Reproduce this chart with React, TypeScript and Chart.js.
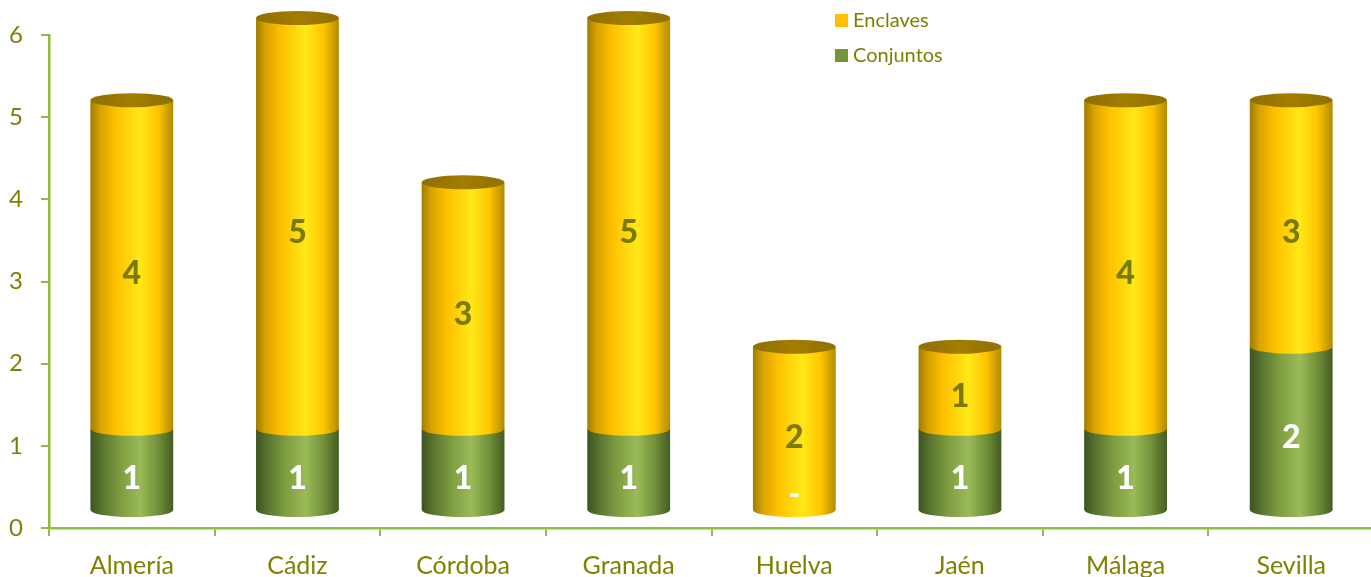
import React, { useEffect, useRef } from "react";
import { Chart, registerables } from "chart.js";

Chart.register(...registerables);

const categories = ["Almería", "Cádiz", "Córdoba", "Granada", "Huelva", "Jaén", "Málaga", "Sevilla"];
const conjuntos = [1, 1, 1, 1, 0, 1, 1, 2];
const enclaves = [4, 5, 3, 5, 2, 1, 4, 3];
const seriesNames = ["Conjuntos", "Enclaves"];
const yMin = 0;
const yMax = 6;
const yStep = 1;

const OLIVE = "#808000";
const LABEL_OLIVE = "#7a7a00";
const AXIS_GREEN = "#8fbc3c";
const FONT = "Lato, 'Noto Sans', sans-serif";

const cylinderPlugin = {
  id: "cylinders",
  afterDatasetsDraw(chart: any) {
    const ctx: CanvasRenderingContext2D = chart.ctx;
    const S = 17;
    const ry = 7;
    const nDs = chart.data.datasets.length;
    for (let d = 0; d < nDs; d++) {
      const meta = chart.getDatasetMeta(d);
      const isTop = d === nDs - 1;
      meta.data.forEach((el: any, i: number) => {
        const v = chart.data.datasets[d].data[i];
        if (!v) return;
        const { x, y, base, width } = el.getProps(["x", "y", "base", "width"], true);
        const rx = width / 2;
        const left = x - rx;
        const right = x + rx;
        const top = y - S;
        const bottom = base - S;
        const g = ctx.createLinearGradient(left, 0, right, 0);
        if (d === 0) {
          g.addColorStop(0, "#3d5420");
          g.addColorStop(0.15, "#5b7630");
          g.addColorStop(0.35, "#7d9b40");
          g.addColorStop(0.6, "#9bbb59");
          g.addColorStop(0.82, "#718f38");
          g.addColorStop(1, "#445c22");
        } else {
          g.addColorStop(0, "#a07c00");
          g.addColorStop(0.12, "#d9a300");
          g.addColorStop(0.3, "#ffc000");
          g.addColorStop(0.6, "#ffe817");
          g.addColorStop(0.82, "#ffc400");
          g.addColorStop(1, "#b08a00");
        }
        ctx.save();
        ctx.beginPath();
        ctx.moveTo(left, top);
        ctx.lineTo(left, bottom);
        ctx.ellipse(x, bottom, rx, ry, 0, Math.PI, 0, true);
        ctx.lineTo(right, top);
        ctx.closePath();
        ctx.fillStyle = g;
        ctx.fill();
        if (isTop) {
          const tg = ctx.createLinearGradient(left, 0, right, 0);
          tg.addColorStop(0, "#8f6f00");
          tg.addColorStop(0.5, "#a27d00");
          tg.addColorStop(1, "#8f6f00");
          ctx.beginPath();
          ctx.ellipse(x, top, rx, ry, 0, 0, Math.PI * 2);
          ctx.fillStyle = tg;
          ctx.fill();
        }
        ctx.restore();
      });
    }
    // data labels
    ctx.save();
    ctx.textAlign = "center";
    ctx.textBaseline = "middle";
    ctx.font = "900 32px " + FONT;
    for (let d = 0; d < nDs; d++) {
      const meta = chart.getDatasetMeta(d);
      meta.data.forEach((el: any, i: number) => {
        const v = chart.data.datasets[d].data[i];
        const { x, y, base } = el.getProps(["x", "y", "base"], true);
        ctx.fillStyle = d === 0 ? "#ffffff" : LABEL_OLIVE;
        if (!v) {
          ctx.fillText("-", x, base - 33);
        } else {
          ctx.fillText(String(v), x, (y + base) / 2 - 8);
        }
      });
    }
    ctx.restore();
  },
  afterDraw(chart: any) {
    const ctx: CanvasRenderingContext2D = chart.ctx;
    const items = [
      { label: seriesNames[1], color: "#ffc000", y: 14 },
      { label: seriesNames[0], color: "#77933c", y: 49 },
    ];
    ctx.save();
    ctx.font = "20px " + FONT;
    ctx.textAlign = "left";
    ctx.textBaseline = "alphabetic";
    items.forEach((it) => {
      ctx.fillStyle = it.color;
      ctx.fillRect(835, it.y, 13, 13);
      ctx.fillStyle = OLIVE;
      ctx.fillText(it.label, 853, it.y + 13);
    });
    ctx.restore();
  },
};

export default function App() {
  const ref = useRef<HTMLCanvasElement>(null);
  useEffect(() => {
    document.body.style.margin = "0";
    document.body.style.overflow = "hidden";
    const chart = new Chart(ref.current as HTMLCanvasElement, {
      type: "bar",
      data: {
        labels: categories,
        datasets: [
          {
            label: seriesNames[0],
            data: conjuntos,
            backgroundColor: "rgba(0,0,0,0)",
            borderWidth: 0,
            categoryPercentage: 1,
            barPercentage: 0.5,
          },
          {
            label: seriesNames[1],
            data: enclaves,
            backgroundColor: "rgba(0,0,0,0)",
            borderWidth: 0,
            categoryPercentage: 1,
            barPercentage: 0.5,
          },
        ],
      },
      options: {
        responsive: false,
        animation: false,
        layout: { padding: { top: 35, left: 0, right: 0, bottom: 0 } },
        plugins: { legend: { display: false }, tooltip: { enabled: false } },
        scales: {
          x: {
            stacked: true,
            grid: {
              offset: true,
              drawOnChartArea: false,
              drawTicks: true,
              tickLength: 8,
              color: AXIS_GREEN,
              lineWidth: 2,
            },
            border: { display: true, color: AXIS_GREEN, width: 2.5 },
            ticks: {
              color: OLIVE,
              font: { family: FONT, size: 25 },
              padding: 15,
              maxRotation: 0,
            },
            afterFit(scale: any) {
              scale.height = 49;
            },
          },
          y: {
            stacked: true,
            min: yMin,
            max: yMax,
            grid: {
              drawOnChartArea: false,
              drawTicks: true,
              tickLength: 8,
              color: AXIS_GREEN,
              lineWidth: 2,
            },
            border: { display: true, color: AXIS_GREEN, width: 2.5 },
            ticks: {
              stepSize: yStep,
              color: OLIVE,
              font: { family: FONT, size: 24 },
              padding: 18,
            },
            afterFit(scale: any) {
              scale.width = 49;
            },
          },
        },
      },
      plugins: [cylinderPlugin],
    });
    return () => chart.destroy();
  }, []);
  return (
    <div style={{ width: 1371, height: 577, overflow: "hidden" }}>
      <canvas ref={ref} width={1374} height={577} />
    </div>
  );
}
